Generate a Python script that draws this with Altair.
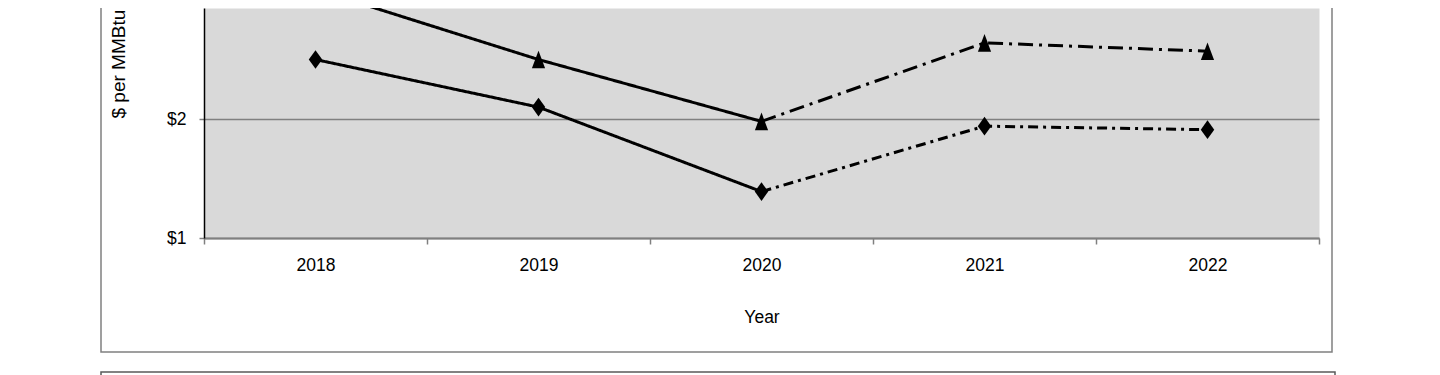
import altair as alt
import pandas as pd

# ---- data ----
years = ["2018", "2019", "2020", "2021", "2022"]
upper_values = [3.09, 2.50, 1.98, 2.64, 2.57]   # triangle series
lower_values = [2.50, 2.10, 1.39, 1.94, 1.91]   # diamond series
last_actual_year = "2020"
y_tick_values = [1, 2]
y_domain = [1, 2.933]

series_names = ["Upper series", "Lower series"]

# ---- tables built from the arrays ----
cut = years.index(last_actual_year)
line_rows, point_rows = [], []
for name, vals in zip(series_names, [upper_values, lower_values]):
    for i, (yr, v) in enumerate(zip(years, vals)):
        point_rows.append({"series": name, "year": yr, "value": v})
        if i <= cut:
            line_rows.append({"series": name, "year": yr, "value": v, "part": "actual"})
        if i >= cut:
            line_rows.append({"series": name, "year": yr, "value": v, "part": "projected"})
lines = pd.DataFrame(line_rows)
points = pd.DataFrame(point_rows)

LABEL_FONT = "Liberation Sans, Arial"
TITLE_FONT = "Liberation Sans, Arial"

x_enc = alt.X(
    "year:N", sort=years, bandPosition=0.5,
    scale=alt.Scale(type="band", paddingInner=0, paddingOuter=0),
    axis=alt.Axis(
        title="Year", grid=False, tickBand="extent",
        domainColor="#808080", domainWidth=2,
        tickColor="#808080", tickWidth=1.5, tickSize=6,
        labelFont=LABEL_FONT, labelFontSize=17.5, labelColor="#000000",
        labelPadding=26, labelBaseline="alphabetic", labelAngle=0,
        titleFont=TITLE_FONT, titleFontSize=17.5, titleFontWeight="normal",
        titleColor="#000000", titleBaseline="alphabetic", titleY=84,
    ),
)
y_enc = alt.Y(
    "value:Q",
    scale=alt.Scale(domain=y_domain, nice=False, zero=False),
    axis=alt.Axis(
        title="$ per MMBtu", values=y_tick_values, labelExpr="'$' + datum.value",
        grid=True, gridColor="#808080", gridWidth=1.5,
        domainColor="#000000", domainWidth=1.5,
        tickColor="#808080", tickWidth=1.5, tickSize=5,
        labelFont=LABEL_FONT, labelFontSize=17.5, labelColor="#000000", labelPadding=13,
        titleFont=TITLE_FONT, titleFontSize=19, titleFontWeight="normal",
        titleColor="#000000", titleAngle=270, titleAlign="left",
        titleBaseline="alphabetic", titleX=-80, titleY=110,
    ),
)

dash_map = {
    ("Upper series", "actual"): [1, 0],
    ("Upper series", "projected"): [15, 6, 3, 6],
    ("Lower series", "actual"): [1, 0],
    ("Lower series", "projected"): [10, 5, 3, 5],
}

layers = []
for (name, part), dash in dash_map.items():
    sub = lines[(lines.series == name) & (lines.part == part)]
    layers.append(
        alt.Chart(sub).mark_line(color="#000000", strokeWidth=3, clip=True,
                                 strokeDash=dash)
        .encode(x=x_enc, y=y_enc)
    )

tri_path = "M0,-1L0.75,1L-0.75,1Z"
dia_path = "M0,-1L0.72,0L0,1L-0.72,0Z"
layers.append(
    alt.Chart(points[points.series == "Upper series"])
    .mark_point(shape=tri_path, size=310, filled=True, color="#000000", opacity=1, clip=True)
    .encode(x=x_enc, y=y_enc)
)
layers.append(
    alt.Chart(points[points.series == "Lower series"])
    .mark_point(shape=dia_path, size=350, filled=True, color="#000000", opacity=1, clip=True)
    .encode(x=x_enc, y=y_enc)
)

frame_df = pd.DataFrame({"k": [0]})
frame = alt.Chart(frame_df).mark_rect(fill="transparent", stroke="#808080", strokeWidth=1.5).encode(
    x=alt.value(-103), x2=alt.value(1128), y=alt.value(-30), y2=alt.value(344)
)
frame2 = alt.Chart(frame_df).mark_rect(fill="transparent", stroke="#5a5a5a", strokeWidth=1.5).encode(
    x=alt.value(-103), x2=alt.value(1131), y=alt.value(364), y2=alt.value(420)
)

chart = (
    alt.layer(frame, frame2, *layers)
    .properties(
        width=1115, height=230,
        autosize=alt.AutoSizeParams(type="none"),
        padding={"left": 196, "top": 0, "right": 113, "bottom": 137},
        background="#ffffff",
    )
    .configure_view(fill="#d9d9d9", stroke="transparent")
)

chart.save("out.html", embed_options={"renderer": "svg", "actions": False})
